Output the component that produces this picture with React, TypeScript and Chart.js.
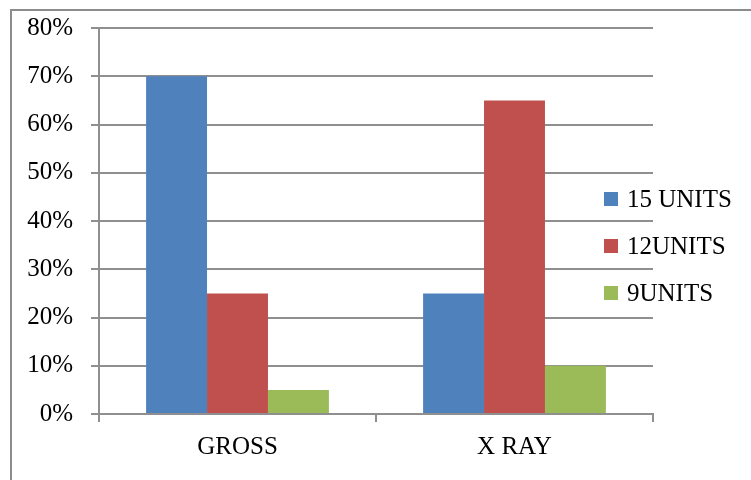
import React, { useEffect, useRef } from "react";
import { Chart, registerables } from "chart.js";

Chart.register(...registerables);

const categories = ["GROSS", "X RAY"];
const seriesNames = ["15 UNITS", "12UNITS", "9UNITS"];
const series15 = [70, 25];
const series12 = [25, 65];
const series9 = [5, 10];
const seriesColors = ["#4F81BD", "#C0504D", "#9BBB59"];
const yTicks = [0, 10, 20, 30, 40, 50, 60, 70, 80];

const FONT = "'Liberation Serif', 'Times New Roman', serif";
const GRID = "#8f8f8f";

const legendPlugin = {
  id: "customLegend",
  afterDraw(chart: any) {
    const { ctx, chartArea } = chart;
    const x0 = chartArea.right - 49;
    const yMid = chartArea.top + 218;
    const gap = 47;
    ctx.save();
    ctx.font = `25px ${FONT}`;
    ctx.textBaseline = "middle";
    ctx.textAlign = "left";
    chart.data.datasets.forEach((ds: any, i: number) => {
      const y = yMid + (i - 1) * gap;
      ctx.fillStyle = ds.backgroundColor;
      ctx.fillRect(x0, y - 7, 14, 14);
      ctx.fillStyle = "#000";
      ctx.fillText(ds.label, x0 + 23, y + 1);
    });
    ctx.restore();
  },
};

export default function App() {
  const ref = useRef<HTMLCanvasElement | null>(null);

  useEffect(() => {
    document.body.style.margin = "0";
    if (!ref.current) return;
    const values = [series15, series12, series9];
    const chart = new Chart(ref.current, {
      type: "bar",
      data: {
        labels: categories,
        datasets: seriesNames.map((name, i) => ({
          label: name,
          data: values[i],
          backgroundColor: seriesColors[i],
          borderWidth: 0,
          categoryPercentage: 0.66,
          barPercentage: 1.0,
        })),
      },
      options: {
        animation: false,
        responsive: false,
        maintainAspectRatio: false,
        layout: { padding: { left: 0, top: 28, right: 98, bottom: 0 } },
        plugins: {
          legend: { display: false },
          tooltip: { enabled: false },
        },
        scales: {
          x: {
            offset: true,
            grid: {
              offset: true,
              drawOnChartArea: false,
              drawTicks: true,
              tickLength: 8,
              color: GRID,
              lineWidth: 2,
            },
            border: { color: GRID, width: 2 },
            ticks: {
              color: "#000",
              font: { family: FONT, size: 25 },
              padding: 10,
            },
            afterFit(scale: any) {
              scale.height = 66;
              scale.paddingLeft = 0;
              scale.paddingRight = 0;
            },
          },
          y: {
            min: 0,
            max: 80,
            afterBuildTicks(scale: any) {
              scale.ticks = yTicks.map((v) => ({ value: v }));
            },
            grid: {
              color: GRID,
              lineWidth: 2,
              tickLength: 8,
              drawTicks: true,
            },
            border: { color: GRID, width: 2 },
            ticks: {
              color: "#000",
              font: { family: FONT, size: 25 },
              padding: 18,
              callback: (v: any) => `${v}%`,
            },
            afterFit(scale: any) {
              scale.width = 99;
              scale.paddingTop = 0;
              scale.paddingBottom = 0;
            },
          },
        },
      },
      plugins: [legendPlugin],
    });
    return () => chart.destroy();
  }, []);

  return (
    <div style={{ position: "relative", width: 751, height: 480, overflow: "hidden", background: "#fff" }}>
      <div
        style={{
          position: "absolute",
          left: 10,
          top: 9,
          width: 800,
          height: 600,
          border: "2px solid #8c8c8c",
        }}
      />
      <canvas
        ref={ref}
        width={751}
        height={480}
        style={{ position: "absolute", left: 0, top: 0, width: 751, height: 480 }}
      />
    </div>
  );
}
